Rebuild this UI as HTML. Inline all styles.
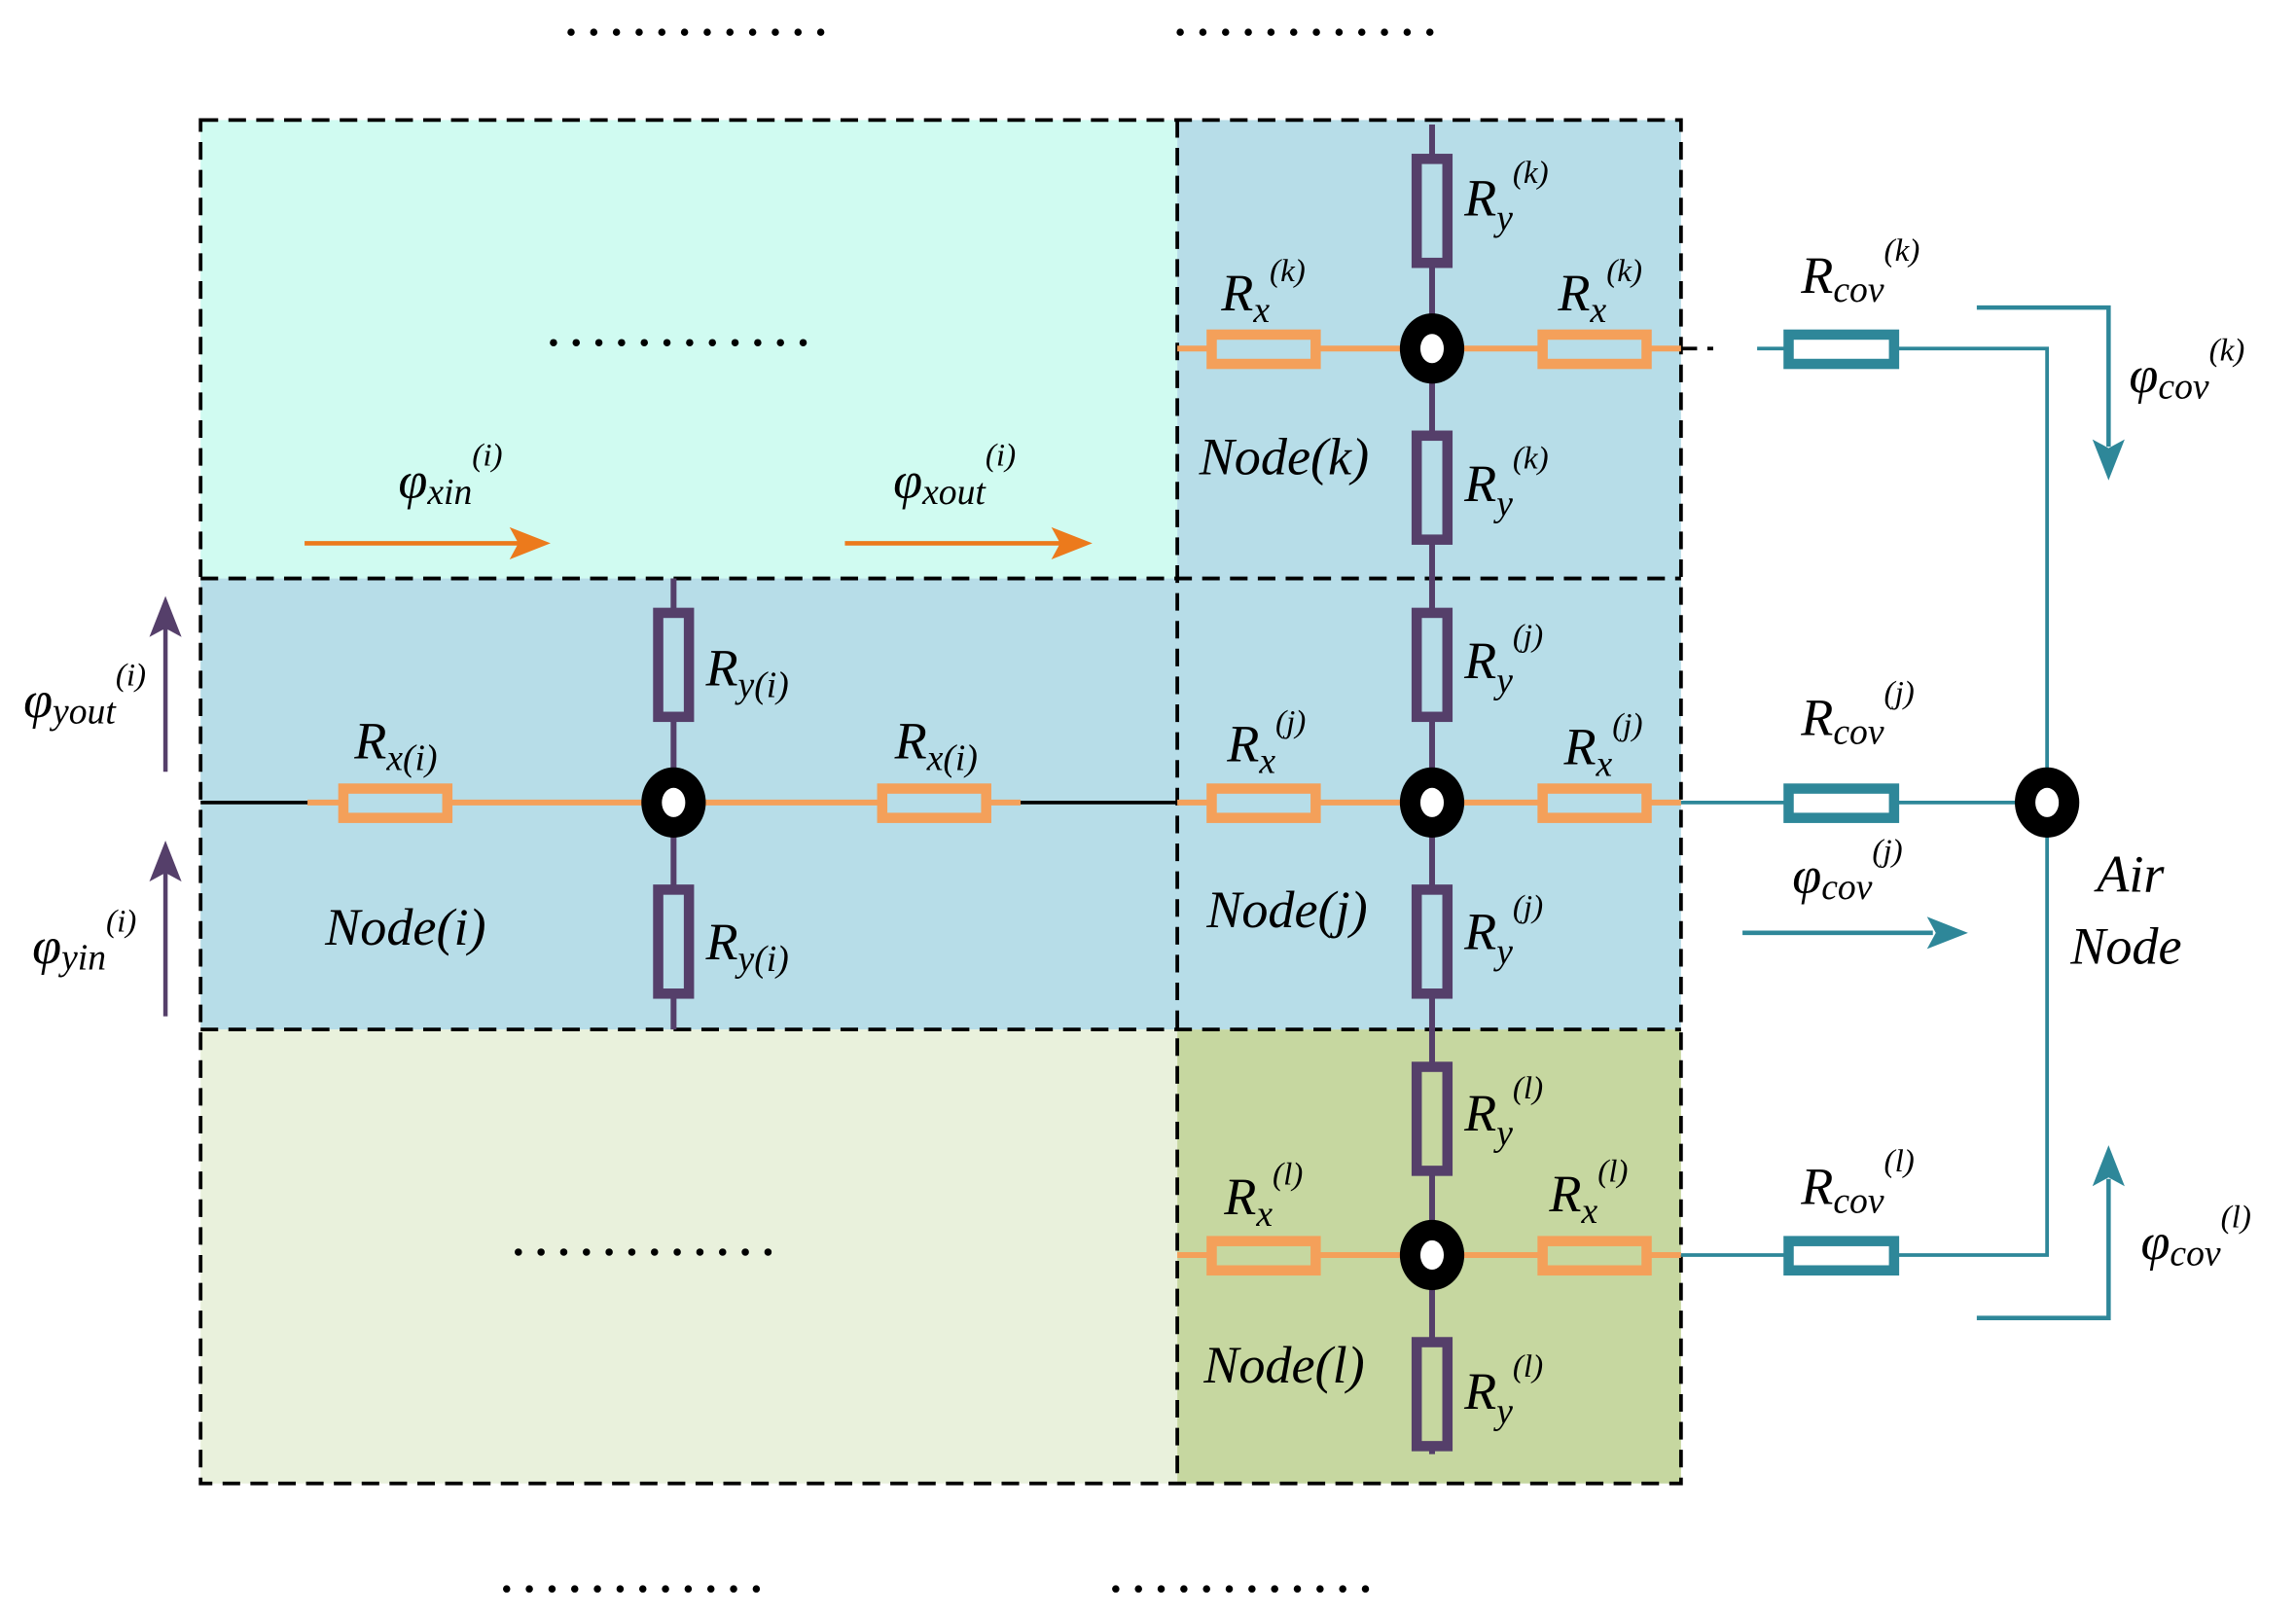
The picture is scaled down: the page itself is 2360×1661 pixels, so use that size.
<!DOCTYPE html>
<html><head><meta charset="utf-8"><style>
html,body{margin:0;padding:0;background:#fff;}
svg{display:block;}
text{font-family:"Liberation Serif","DejaVu Serif",serif;font-style:italic;fill:#000;}
</style></head><body>
<svg width="2360" height="1661" viewBox="0 0 1568 1103.5" preserveAspectRatio="none" xmlns="http://www.w3.org/2000/svg" font-family="Liberation Serif, DejaVu Serif, serif">
<!-- fills -->
<rect x="137" y="82" width="667" height="313" fill="#d0fbf1"/>
<rect x="804" y="82" width="344" height="313" fill="#b7dde8"/>
<rect x="137" y="395" width="1011" height="308" fill="#b7dde8"/>
<rect x="137" y="703" width="667" height="310" fill="#e9f1dc"/>
<rect x="804" y="703" width="344" height="310" fill="#c6d7a0"/>
<!-- dashed grid -->
<g stroke="#000" stroke-width="2.5" stroke-dasharray="12,7" fill="none">
<rect x="137" y="82" width="1011" height="931"/>
<line x1="804" y1="82" x2="804" y2="1013"/>
<line x1="137" y1="395" x2="1148" y2="395"/>
<line x1="137" y1="703" x2="1148" y2="703"/>
<line x1="1128" y1="238" x2="1170" y2="238"/>
</g>
<!-- dots -->
<g stroke="#000" stroke-width="5" stroke-linecap="round" stroke-dasharray="0,15.5">
<line x1="390" y1="22" x2="576" y2="22"/>
<line x1="806" y1="22" x2="992" y2="22"/>
<line x1="346" y1="1085" x2="532" y2="1085"/>
<line x1="762" y1="1085" x2="948" y2="1085"/>
<line x1="378" y1="234" x2="564" y2="234"/>
<line x1="354" y1="855" x2="540" y2="855"/>
</g>
<!-- wires -->
<line x1="137" y1="548" x2="804" y2="548" stroke="#000" stroke-width="2.5"/>
<line x1="210" y1="548" x2="697" y2="548" stroke="#f4a05a" stroke-width="4"/>
<line x1="460" y1="395" x2="460" y2="703" stroke="#553f6a" stroke-width="4"/>
<line x1="978" y1="85" x2="978" y2="993" stroke="#553f6a" stroke-width="4"/>
<g stroke="#f4a05a" stroke-width="4">
<line x1="804" y1="238" x2="1148" y2="238"/>
<line x1="804" y1="548" x2="1148" y2="548"/>
<line x1="804" y1="857" x2="1148" y2="857"/>
</g>
<g stroke="#2e8799" stroke-width="2.5" fill="none">
<polyline points="1200,238 1398,238 1398,857 1148,857"/>
<line x1="1148" y1="548" x2="1398" y2="548"/>
</g>
<!-- resistors -->
<g fill="#b7dde8" stroke="#f4a05a" stroke-width="7">
<rect x="234.5" y="538.5" width="71" height="20"/>
<rect x="602.5" y="538.5" width="71" height="20"/>
<rect x="827.5" y="228.5" width="71" height="20"/>
<rect x="1053.5" y="228.5" width="71" height="20"/>
<rect x="827.5" y="538.5" width="71" height="20"/>
<rect x="1053.5" y="538.5" width="71" height="20"/>
<rect x="827.5" y="847.5" width="71" height="20" fill="#c6d7a0"/>
<rect x="1053.5" y="847.5" width="71" height="20" fill="#c6d7a0"/>
</g>
<g fill="#b7dde8" stroke="#553f6a" stroke-width="7">
<rect x="449.5" y="418.5" width="21" height="71"/>
<rect x="449.5" y="607.5" width="21" height="71"/>
<rect x="967.5" y="108.5" width="21" height="71"/>
<rect x="967.5" y="297.5" width="21" height="71"/>
<rect x="967.5" y="418.5" width="21" height="71"/>
<rect x="967.5" y="607.5" width="21" height="71"/>
<rect x="967.5" y="728.5" width="21" height="71" fill="#c6d7a0"/>
<rect x="967.5" y="916.5" width="21" height="71" fill="#c6d7a0"/>
</g>
<g fill="#fff" stroke="#2e8799" stroke-width="7">
<rect x="1221.5" y="228.5" width="72" height="20"/>
<rect x="1221.5" y="538.5" width="72" height="20"/>
<rect x="1221.5" y="847.5" width="72" height="20"/>
</g>
<!-- nodes -->
<g>
<ellipse cx="460" cy="548" rx="22" ry="24" fill="#000"/><ellipse cx="460" cy="548" rx="8" ry="10" fill="#fff"/>
<ellipse cx="978" cy="238" rx="22" ry="24" fill="#000"/><ellipse cx="978" cy="238" rx="8" ry="10" fill="#fff"/>
<ellipse cx="978" cy="548" rx="22" ry="24" fill="#000"/><ellipse cx="978" cy="548" rx="8" ry="10" fill="#fff"/>
<ellipse cx="978" cy="857" rx="22" ry="24" fill="#000"/><ellipse cx="978" cy="857" rx="8" ry="10" fill="#fff"/>
<ellipse cx="1398" cy="548" rx="22" ry="24" fill="#000"/><ellipse cx="1398" cy="548" rx="8" ry="10" fill="#fff"/>
</g>
<!-- arrows -->
<g stroke-width="3" fill="none">
<line x1="208" y1="371" x2="355" y2="371" stroke="#ec7a1c"/>
<line x1="577" y1="371" x2="725" y2="371" stroke="#ec7a1c"/>
<line x1="113" y1="527" x2="113" y2="428" stroke="#553f6a"/>
<line x1="113" y1="694" x2="113" y2="595" stroke="#553f6a"/>
<polyline points="1350,210 1440,210 1440,305" stroke="#2e8799"/>
<polyline points="1350,900 1440,900 1440,805" stroke="#2e8799"/>
<line x1="1190" y1="637" x2="1320" y2="637" stroke="#2e8799"/>
</g>
<g>
<path d="M376,371 L348,360 L354,371 L348,382Z" fill="#ec7a1c"/>
<path d="M746,371 L718,360 L724,371 L718,382Z" fill="#ec7a1c"/>
<path d="M113,407 L102,435 L113,429 L124,435Z" fill="#553f6a"/>
<path d="M113,574 L102,602 L113,596 L124,602Z" fill="#553f6a"/>
<path d="M1440,328 L1429,300 L1440,306 L1451,300Z" fill="#2e8799"/>
<path d="M1440,782 L1429,810 L1440,804 L1451,810Z" fill="#2e8799"/>
<path d="M1344,637 L1316,626 L1322,637 L1316,648Z" fill="#2e8799"/>
</g>
<!-- labels -->
<g font-size="36">
<text x="222" y="645">Node(i)</text>
<text x="819" y="324">Node(k)</text>
<text x="824" y="633">Node(j)</text>
<text x="822" y="944">Node(l)</text>
<text x="1432" y="609">Air</text>
<text x="1414" y="658">Node</text>
</g>
<g font-size="36">
<text x="242" y="518">R<tspan font-size="25" dy="8">x(i)</tspan></text>
<text x="611" y="518">R<tspan font-size="25" dy="8">x(i)</tspan></text>
<text x="482" y="468">R<tspan font-size="25" dy="8">y(i)</tspan></text>
<text x="482" y="655">R<tspan font-size="25" dy="8">y(i)</tspan></text>
<text x="1000" y="147">R<tspan font-size="25" dy="10">y</tspan><tspan font-size="22" dy="-32">(k)</tspan></text>
<text x="1000" y="342">R<tspan font-size="25" dy="10">y</tspan><tspan font-size="22" dy="-32">(k)</tspan></text>
<text x="1000" y="463">R<tspan font-size="25" dy="10">y</tspan><tspan font-size="22" dy="-32">(j)</tspan></text>
<text x="1000" y="648">R<tspan font-size="25" dy="10">y</tspan><tspan font-size="22" dy="-32">(j)</tspan></text>
<text x="1000" y="772">R<tspan font-size="25" dy="10">y</tspan><tspan font-size="22" dy="-32">(l)</tspan></text>
<text x="1000" y="962">R<tspan font-size="25" dy="10">y</tspan><tspan font-size="22" dy="-32">(l)</tspan></text>
<text x="834" y="212">R<tspan font-size="25" dy="8">x</tspan><tspan font-size="22" dy="-28">(k)</tspan></text>
<text x="1064" y="212">R<tspan font-size="25" dy="8">x</tspan><tspan font-size="22" dy="-28">(k)</tspan></text>
<text x="838" y="520">R<tspan font-size="25" dy="8">x</tspan><tspan font-size="22" dy="-28">(j)</tspan></text>
<text x="1068" y="522">R<tspan font-size="25" dy="8">x</tspan><tspan font-size="22" dy="-28">(j)</tspan></text>
<text x="836" y="829">R<tspan font-size="25" dy="8">x</tspan><tspan font-size="22" dy="-28">(l)</tspan></text>
<text x="1058" y="827">R<tspan font-size="25" dy="8">x</tspan><tspan font-size="22" dy="-28">(l)</tspan></text>
<text x="1230" y="200">R<tspan font-size="25" dy="6">cov</tspan><tspan font-size="22" dy="-28">(k)</tspan></text>
<text x="1230" y="502">R<tspan font-size="25" dy="6">cov</tspan><tspan font-size="22" dy="-28">(j)</tspan></text>
<text x="1230" y="822">R<tspan font-size="25" dy="6">cov</tspan><tspan font-size="22" dy="-28">(l)</tspan></text>
<text x="272" y="340">φ<tspan font-size="25" dy="4">xin</tspan><tspan font-size="22" dy="-26">(i)</tspan></text>
<text x="610" y="340">φ<tspan font-size="25" dy="4">xout</tspan><tspan font-size="22" dy="-26">(i)</tspan></text>
<text x="16" y="490">φ<tspan font-size="25" dy="4">yout</tspan><tspan font-size="22" dy="-26">(i)</tspan></text>
<text x="22" y="658">φ<tspan font-size="25" dy="4">yin</tspan><tspan font-size="22" dy="-26">(i)</tspan></text>
<text x="1454" y="268">φ<tspan font-size="25" dy="4">cov</tspan><tspan font-size="22" dy="-26">(k)</tspan></text>
<text x="1224" y="610">φ<tspan font-size="25" dy="4">cov</tspan><tspan font-size="22" dy="-26">(j)</tspan></text>
<text x="1462" y="860">φ<tspan font-size="25" dy="4">cov</tspan><tspan font-size="22" dy="-26">(l)</tspan></text>
</g>
</svg>
</body></html>
